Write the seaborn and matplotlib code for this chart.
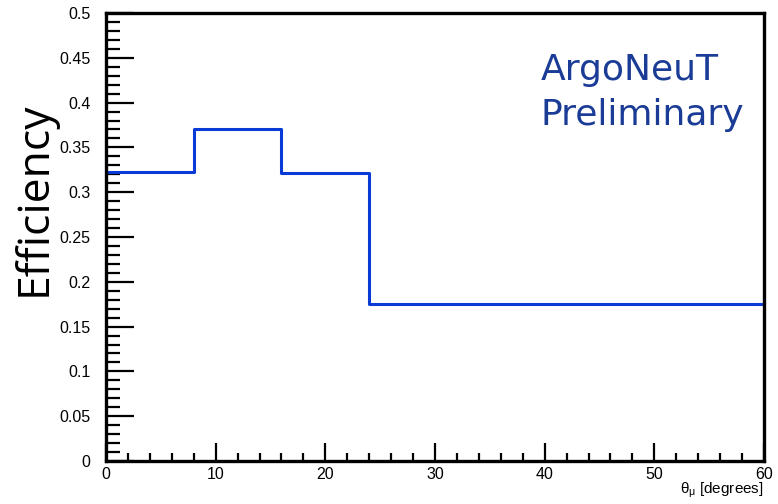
import matplotlib
matplotlib.use("Agg")
import matplotlib.pyplot as plt
import seaborn as sns
import pandas as pd
from matplotlib.ticker import MultipleLocator, FuncFormatter

# Data: efficiency per theta_mu bin (bin lower edges, last edge = 60)
bin_edges = [0, 8, 16, 24, 60]
efficiency = [0.323, 0.370, 0.321, 0.175]

df = pd.DataFrame({"theta": bin_edges, "eff": efficiency + [efficiency[-1]]})

sns.set_theme(style="white")
plt.rcParams["font.family"] = ["Liberation Sans", "DejaVu Sans"]
plt.rcParams["mathtext.fontset"] = "custom"
plt.rcParams["mathtext.rm"] = "Liberation Sans"
plt.rcParams["mathtext.it"] = "Liberation Sans"

fig = plt.figure(figsize=(7.78, 5.04), dpi=100)
ax = fig.add_axes([106 / 778, 43 / 504, 658 / 778, 448 / 504])

sns.lineplot(data=df, x="theta", y="eff", ax=ax, drawstyle="steps-post",
             color="#0b3bd6", linewidth=2.2)

ax.set_xlim(0, 60)
ax.set_ylim(0, 0.5)

ax.xaxis.set_major_locator(MultipleLocator(10))
ax.xaxis.set_minor_locator(MultipleLocator(2))
ax.yaxis.set_major_locator(MultipleLocator(0.05))
ax.yaxis.set_minor_locator(MultipleLocator(0.01))
ax.yaxis.set_major_formatter(FuncFormatter(lambda v, p: f"{v:g}"))

ax.tick_params(axis="both", which="both", direction="in", colors="black",
               labelcolor="black", bottom=True, left=True,
               top=False, right=False, labelsize=11.5)
ax.tick_params(axis="y", which="major", length=20, width=1.6, pad=11)
ax.tick_params(axis="y", which="minor", length=10, width=1.6)
ax.tick_params(axis="x", which="major", length=13, width=1.6, pad=4)
ax.tick_params(axis="x", which="minor", length=6, width=1.6)

for s in ax.spines.values():
    s.set_color("black")
    s.set_linewidth(2.4)

ax.set_ylabel("Efficiency", fontsize=32, color="black",
              family=["Open Sans", "DejaVu Sans"])
ax.yaxis.label.set_va("center")
ax.yaxis.set_label_coords(-0.109, 0.585)

ax.set_xlabel(r"$\theta_{\mu}$ [degrees]", fontsize=11, color="black")
ax.xaxis.label.set_ha("right")
ax.xaxis.set_label_coords(1.0, -0.045)

ax.text(0.66, 0.85, "ArgoNeuT", transform=ax.transAxes, fontsize=26,
        color="#1a3c96", va="baseline", ha="left", family="DejaVu Sans")
ax.text(0.66, 0.75, "Preliminary", transform=ax.transAxes, fontsize=26,
        color="#1a3c96", va="baseline", ha="left", family="DejaVu Sans")

fig.savefig("out.png", dpi=100)
